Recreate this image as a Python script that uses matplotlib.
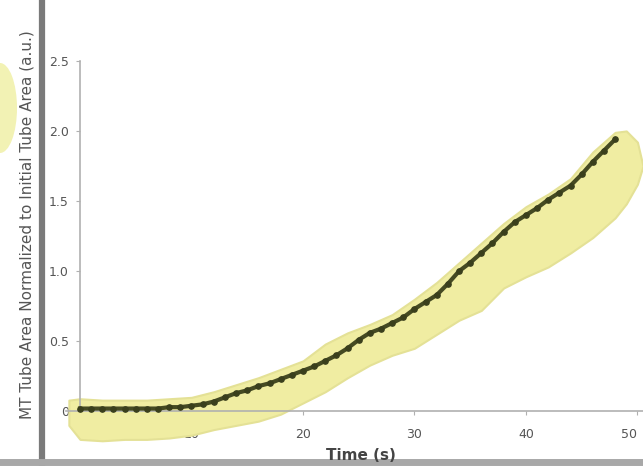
import matplotlib.pyplot as plt
from matplotlib.lines import Line2D
from matplotlib.patches import Ellipse
import numpy as np

# mean curve (time in s, normalised area)
temps = list(range(0, 49))
aire = [0.02, 0.02, 0.02, 0.02, 0.02, 0.02, 0.02, 0.02, 0.03, 0.03,
        0.04, 0.05, 0.07, 0.10, 0.13, 0.15, 0.18, 0.20, 0.23, 0.26,
        0.29, 0.32, 0.36, 0.40, 0.45, 0.51, 0.56, 0.59, 0.63, 0.67,
        0.73, 0.78, 0.83, 0.91, 1.00, 1.06, 1.13, 1.20, 1.28, 1.35,
        1.40, 1.45, 1.51, 1.56, 1.61, 1.69, 1.78, 1.86, 1.94]

# shaded band around the curve
bande_t = [-1, 0, 2, 4, 6, 8, 10, 12, 14, 16, 18, 20, 22, 24, 26, 28,
           30, 32, 34, 36, 38, 40, 42, 44, 46, 48, 49, 50, 50.5]
bande_haut = [0.08, 0.09, 0.08, 0.08, 0.08, 0.09, 0.10, 0.14, 0.19, 0.24,
              0.30, 0.36, 0.48, 0.56, 0.62, 0.69, 0.80, 0.92, 1.06, 1.20,
              1.34, 1.46, 1.55, 1.66, 1.85, 1.99, 2.00, 1.92, 1.75]
bande_bas = [-0.10, -0.20, -0.21, -0.20, -0.20, -0.19, -0.17, -0.13, -0.10, -0.07,
             -0.02, 0.06, 0.14, 0.24, 0.33, 0.40, 0.45, 0.55, 0.65, 0.72,
             0.88, 0.96, 1.03, 1.13, 1.24, 1.38, 1.48, 1.62, 1.75]

xticks = [0, 10, 20, 30, 40, 50]
yticks = [0, 0.5, 1.0, 1.5, 2.0, 2.5]
ytick_labels = ['0', '0.5', '1.0', '1.5', '2.0', '2.5']

W, H = 643, 466
fig = plt.figure(figsize=(W / 100, H / 100), dpi=100)
fig.patch.set_facecolor('white')

# axes: t=0 at px 80, 11.15 px/s ; y=0 at py 410, 147 px/unit
x0, x1 = -1.25, 50.5
y0, y1 = -0.24, 2.72
left = 80 - 11.15 * 1.25
ax = fig.add_axes([left / W, (H - 445) / H, (W - left) / W, 415 / H])
ax.set_xlim(x0, x1)
ax.set_ylim(y0, y1)

ax.fill_between(bande_t, bande_bas, bande_haut, color='#f0eda2',
                edgecolor='#e4e196', linewidth=1.5, zorder=2)
ax.plot(temps, aire, color='#454a22', linewidth=3.0, marker='o',
        markersize=3.8, markerfacecolor='#3a3f1c', markeredgecolor='#3a3f1c', zorder=3)

for s in ['top', 'right']:
    ax.spines[s].set_visible(False)
ax.spines['left'].set_position(('data', 0))
ax.spines['bottom'].set_position(('data', 0))
ax.spines['left'].set_bounds(0, 2.5)
ax.spines['left'].set_color('#b0b0b0')
ax.spines['bottom'].set_color('#b0b0b0')
ax.spines['left'].set_linewidth(1.2)
ax.spines['bottom'].set_linewidth(1.2)

ax.set_xticks(xticks)
ax.set_xticklabels([str(v) for v in xticks])
ax.set_yticks(yticks)
ax.set_yticklabels(ytick_labels)
ax.tick_params(axis='x', colors='#b0b0b0', labelcolor='#555555', labelsize=9,
               length=3, pad=9)
ax.tick_params(axis='y', colors='#b0b0b0', labelcolor='#555555', labelsize=9,
               length=3, pad=5)
ax.get_xticklabels()[-1].set_horizontalalignment('right')
ax.patch.set_alpha(0)

# decoration of the original screenshot
fig.add_artist(Ellipse((0.0, 1 - 108 / H), 34 / W, 90 / H, transform=fig.transFigure,
                       facecolor='#f2f2b4', edgecolor='none', zorder=0))
fig.add_artist(Line2D([42 / W, 42 / W], [0, 1], transform=fig.transFigure,
                      color='#7a7a7a', linewidth=4.5, zorder=1))
fig.add_artist(Line2D([0, 1], [1 - 462 / H, 1 - 462 / H], transform=fig.transFigure,
                      color='#a8a8a8', linewidth=5, zorder=1))

fig.text(361 / W, 1 - 455 / H, 'Time (s)', ha='center', va='center',
         fontsize=11, fontweight='bold', color='#444444', zorder=5)
fig.text(27 / W, 1 - 225 / H, 'MT Tube Area Normalized to Initial Tube Area (a.u.)',
         ha='center', va='center', rotation=90, fontsize=11, color='#555555', zorder=5)

fig.savefig('out.png', dpi=100)
